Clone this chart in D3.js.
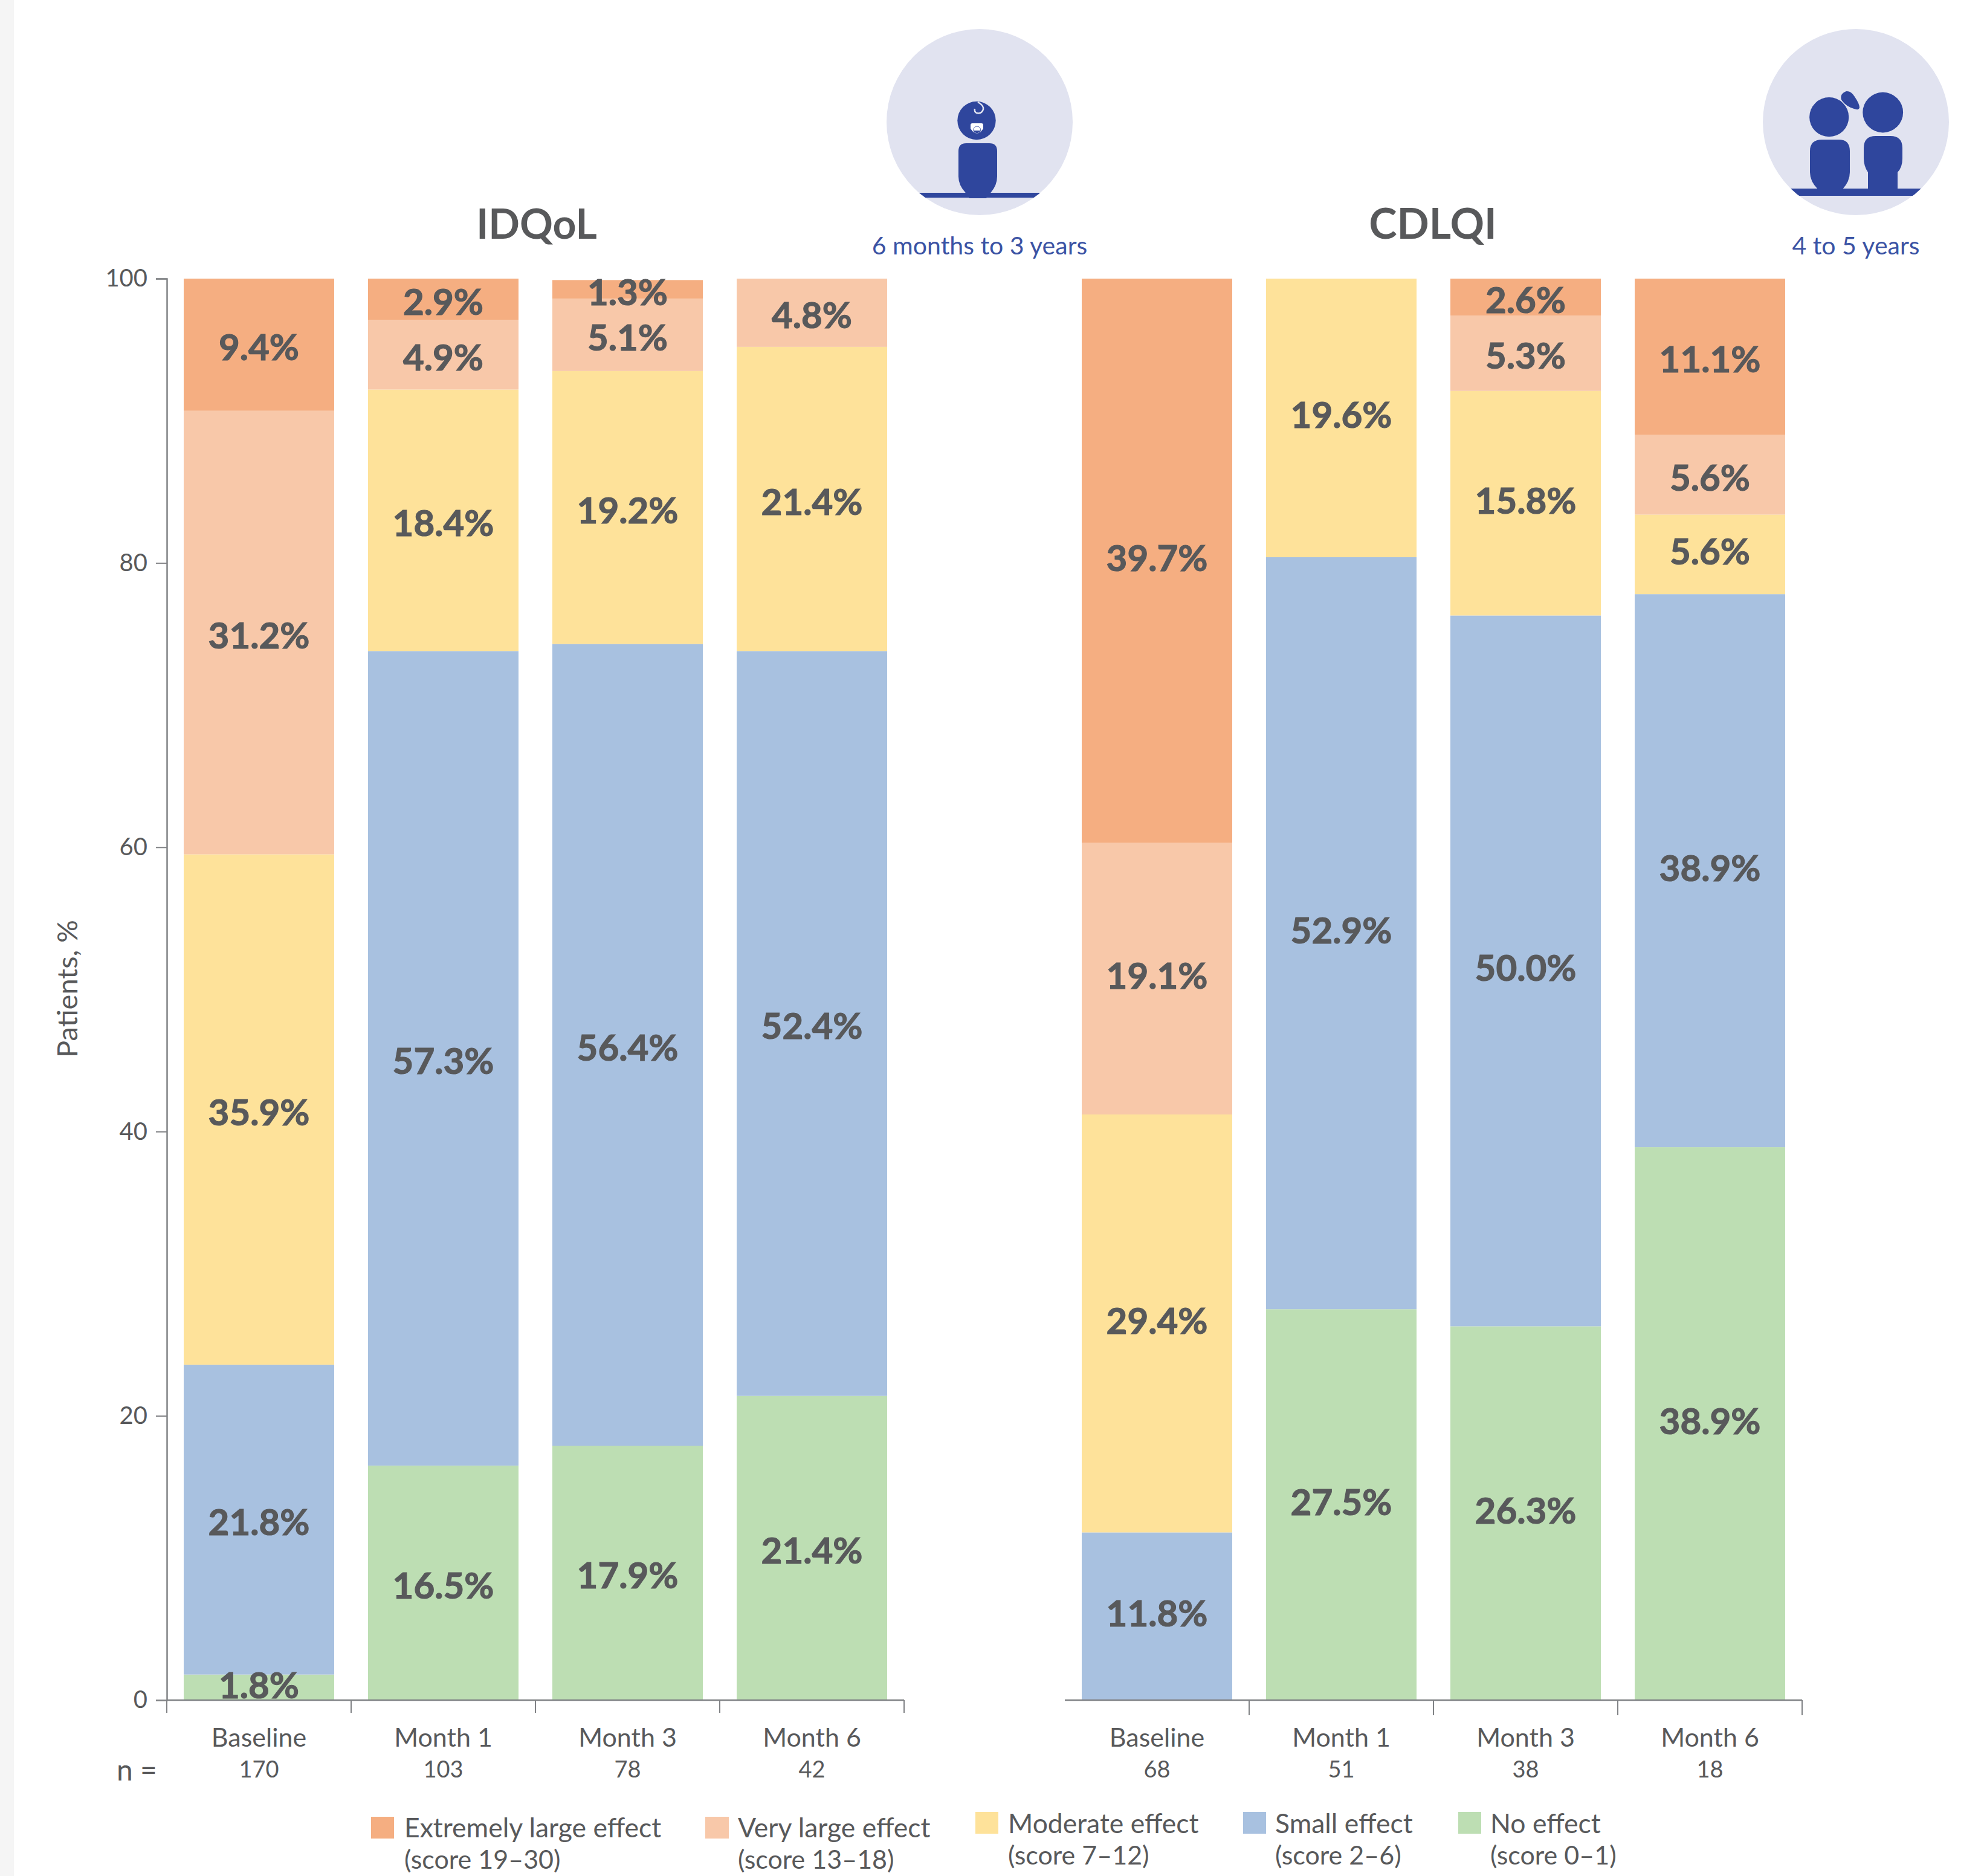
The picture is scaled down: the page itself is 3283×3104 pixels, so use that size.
<!DOCTYPE html>
<html>
<head>
<meta charset="utf-8">
<title>IDQoL and CDLQI</title>
<script src="https://cdn.jsdelivr.net/npm/d3@7"></script>
<style>
  html, body { margin: 0; padding: 0; background: #fff; }
  svg { display: block; }
  text { font-family: Lato, sans-serif; fill: #58595b; }
</style>
</head>
<body>
<div id="chart"></div>
<script>
const timepoints = ['Baseline', 'Month 1', 'Month 3', 'Month 6'];
const effects = ['none', 'small', 'moderate', 'veryLarge', 'extreme'];

const idqolN = [170, 103, 78, 42];
const idqolNone = [1.8, 16.5, 17.9, 21.4];
const idqolSmall = [21.8, 57.3, 56.4, 52.4];
const idqolModerate = [35.9, 18.4, 19.2, 21.4];
const idqolVeryLarge = [31.2, 4.9, 5.1, 4.8];
const idqolExtreme = [9.4, 2.9, 1.3, 0];

const cdlqiN = [68, 51, 38, 18];
const cdlqiNone = [0, 27.5, 26.3, 38.9];
const cdlqiSmall = [11.8, 52.9, 50.0, 38.9];
const cdlqiModerate = [29.4, 19.6, 15.8, 5.6];
const cdlqiVeryLarge = [19.1, 0, 5.3, 5.6];
const cdlqiExtreme = [39.7, 0, 2.6, 11.1];

const yTicks = [0, 20, 40, 60, 80, 100];

const legendNames = ['Extremely large effect', 'Very large effect', 'Moderate effect', 'Small effect', 'No effect'];
const legendScores = ['(score 19–30)', '(score 13–18)', '(score 7–12)', '(score 2–6)', '(score 0–1)'];
const legendKeys = ['extreme', 'veryLarge', 'moderate', 'small', 'none'];

const colors = {
  extreme: '#f5ae81',
  veryLarge: '#f8c8a9',
  moderate: '#fee29a',
  small: '#a8c1e0',
  none: '#bddeb3',
};

const width = 3283;
const height = 3104;
const textColor = '#58595b';
const axisColor = '#808285';
const iconBlue = '#2f469d';

function rows(none, small, moderate, veryLarge, extreme) {
  return timepoints.map((t, i) => ({
    timepoint: t,
    none: none[i],
    small: small[i],
    moderate: moderate[i],
    veryLarge: veryLarge[i],
    extreme: extreme[i],
  }));
}

const svg = d3.select('#chart').append('svg')
  .attr('width', width)
  .attr('height', height)
  .attr('viewBox', `0 0 ${width} ${height}`);

svg.append('rect').attr('width', 23).attr('height', height).attr('fill', '#f5f5f5');

const yScale = d3.scaleLinear().domain([0, 100]).range([2813, 461]).clamp(true);

function renderPanel(opts) {
  const { title, titleX, titleSize, left, data, n, tickLen, labelShift } = opts;
  const right = left + 1220;
  const xScale = d3.scaleBand()
    .domain(timepoints)
    .range([left, right])
    .paddingInner(0.1836)
    .paddingOuter(0.0918);

  const g = svg.append('g');
  const series = d3.stack().keys(effects)(data);

  g.selectAll('g.series')
    .data(series)
    .join('g')
    .attr('class', 'series')
    .attr('fill', (s) => colors[s.key])
    .selectAll('rect')
    .data((s) => s)
    .join('rect')
    .attr('x', (d) => xScale(d.data.timepoint))
    .attr('width', xScale.bandwidth())
    .attr('y', (d) => yScale(d[1]))
    .attr('height', (d) => yScale(d[0]) - yScale(d[1]));

  // baseline and the ticks between the time points
  g.append('line')
    .attr('x1', left).attr('x2', right)
    .attr('y1', yScale(0)).attr('y2', yScale(0))
    .attr('stroke', axisColor).attr('stroke-width', 2.5);

  const boundaries = opts.firstTick ? d3.range(0, 5) : d3.range(1, 5);
  g.selectAll('line.xtick')
    .data(boundaries)
    .join('line')
    .attr('class', 'xtick')
    .attr('x1', (i) => left + i * xScale.step())
    .attr('x2', (i) => left + i * xScale.step())
    .attr('y1', yScale(0))
    .attr('y2', yScale(0) + tickLen)
    .attr('stroke', axisColor)
    .attr('stroke-width', 2);

  const xAxis = g.append('g')
    .attr('transform', `translate(0,${yScale(0)})`)
    .call(d3.axisBottom(xScale).tickSize(0).tickPadding(0));
  xAxis.select('.domain').remove();
  xAxis.selectAll('text')
    .attr('y', 77)
    .attr('dy', 0)
    .style('font-size', '43px')
    .style('fill', textColor);

  g.selectAll('text.n')
    .data(n)
    .join('text')
    .attr('class', 'n')
    .attr('x', (d, i) => xScale(timepoints[i]) + xScale.bandwidth() / 2)
    .attr('y', 2941)
    .attr('text-anchor', 'middle')
    .style('font-size', '38px')
    .text((d) => d);

  // value labels, one per non-empty segment
  series.forEach((s) => {
    g.selectAll(`text.v-${s.key}`)
      .data(s.filter((d) => d.data[s.key] > 0))
      .join('text')
      .attr('class', `v-${s.key}`)
      .attr('x', (d) => xScale(d.data.timepoint) + xScale.bandwidth() / 2)
      .attr('y', (d) => (yScale(d[0]) + yScale(d[1])) / 2 + labelShift(s.key, d))
      .attr('text-anchor', 'middle')
      .attr('stroke', textColor)
      .attr('stroke-width', 1.2)
      .style('font-size', '60px')
      .style('font-weight', 700)
      .text((d) => d.data[s.key].toFixed(1) + '%');
  });

  svg.append('text')
    .attr('x', titleX)
    .attr('y', 395)
    .attr('text-anchor', 'middle')
    .style('font-size', titleSize + 'px')
    .style('font-weight', 700)
    .text(title);
}

renderPanel({
  title: 'IDQoL',
  titleX: 888,
  titleSize: 68,
  left: 276,
  data: rows(idqolNone, idqolSmall, idqolModerate, idqolVeryLarge, idqolExtreme),
  n: idqolN,
  tickLen: 21,
  firstTick: true,
  // the thin bottom segment has its label lifted a little
  labelShift: (key, d) => (key === 'none' && d.data.none < 5 ? 18 : 26),
});

renderPanel({
  title: 'CDLQI',
  titleX: 2371,
  titleSize: 70,
  left: 1762,
  data: rows(cdlqiNone, cdlqiSmall, cdlqiModerate, cdlqiVeryLarge, cdlqiExtreme),
  n: cdlqiN,
  tickLen: 25,
  firstTick: false,
  labelShift: (key, d) => ((key === 'veryLarge' || key === 'extreme') && d.data.timepoint !== 'Baseline' ? 26 : 17),
});

// y axis, left panel only
const yAxis = svg.append('g')
  .attr('transform', 'translate(276,0)')
  .call(d3.axisLeft(yScale).tickValues(yTicks).tickSize(18).tickPadding(14).tickFormat(d3.format('d')));
yAxis.select('.domain').attr('stroke', axisColor).attr('stroke-width', 2.5);
yAxis.selectAll('.tick line').attr('stroke', axisColor).attr('stroke-width', 2);
yAxis.selectAll('text').style('font-size', '40px').style('fill', textColor);

svg.append('text')
  .attr('transform', 'translate(128,1636) rotate(-90)')
  .attr('text-anchor', 'middle')
  .style('font-size', '47px')
  .text('Patients, %');

svg.append('text')
  .attr('x', 193)
  .attr('y', 2946)
  .style('font-size', '48px')
  .text('n =');

// legend
const legendLayout = [
  { swatch: 614, label: 669, top: 3006, first: 3040, second: 3092, w: 38 },
  { swatch: 1167, label: 1221, top: 3006, first: 3040, second: 3092, w: 39 },
  { swatch: 1614, label: 1668, top: 2998, first: 3033, second: 3085, w: 38 },
  { swatch: 2057, label: 2110, top: 2998, first: 3033, second: 3085, w: 38 },
  { swatch: 2413, label: 2466, top: 2998, first: 3033, second: 3085, w: 38 },
];

const legend = svg.append('g').selectAll('g')
  .data(legendKeys)
  .join('g');

legend.append('rect')
  .attr('x', (d, i) => legendLayout[i].swatch)
  .attr('y', (d, i) => legendLayout[i].top)
  .attr('width', (d, i) => legendLayout[i].w)
  .attr('height', 36)
  .attr('fill', (d) => colors[d]);

legend.append('text')
  .attr('x', (d, i) => legendLayout[i].label)
  .attr('y', (d, i) => legendLayout[i].first)
  .style('font-size', '44.5px')
  .text((d, i) => legendNames[i]);

legend.append('text')
  .attr('x', (d, i) => legendLayout[i].label)
  .attr('y', (d, i) => legendLayout[i].second)
  .style('font-size', '43px')
  .text((d, i) => legendScores[i]);

// age icons
function iconBase(id, ox, groundTop, groundH) {
  const icon = svg.append('g').attr('transform', `translate(${ox},0)`);
  svg.append('clipPath').attr('id', id)
    .append('circle').attr('cx', 221).attr('cy', 202).attr('r', 154);
  icon.append('circle').attr('cx', 221).attr('cy', 202).attr('r', 154).attr('fill', '#e1e3f0');
  icon.append('rect')
    .attr('x', 60).attr('y', groundTop).attr('width', 330).attr('height', groundH)
    .attr('fill', iconBlue)
    .attr('clip-path', `url(#${id})`);
  return icon;
}

const baby = iconBase('clip-baby', 1400, 319, 8);
baby.append('circle').attr('cx', 216).attr('cy', 199.5).attr('r', 31.7).attr('fill', iconBlue);
baby.append('path')
  .attr('d', 'M186,250 Q186,237 199,237 H237 Q250,237 250,250 V292 Q250,306 240,318 L232,328 H204 L197,318 Q186,306 186,292 Z')
  .attr('fill', iconBlue);
baby.append('path')
  .attr('d', 'M218,169 Q228,174 227,181 Q224,189 216,187 Q212,185 213,180')
  .attr('fill', 'none').attr('stroke', '#e1e3f0').attr('stroke-width', 2.5);
baby.append('path')
  .attr('d', 'M206,207 Q206,204 209,204 H224 Q227,204 227,207 V213 L222,219 H211 L206,213 Z')
  .attr('fill', '#fff');
baby.append('circle').attr('cx', 216.7).attr('cy', 215).attr('r', 6).attr('fill', '#fff').attr('stroke', iconBlue).attr('stroke-width', 0.8);
baby.append('path').attr('d', 'M211,216 H222.4 A6,6 0 0 1 211,216 Z').attr('fill', iconBlue);

const kids = iconBase('clip-kids', 2850, 312, 12);
kids.append('circle').attr('cx', 176.7).attr('cy', 193.7).attr('r', 32.6).attr('fill', iconBlue);
kids.append('circle').attr('cx', 265.7).attr('cy', 186).attr('r', 33.4).attr('fill', iconBlue);
kids.append('path')
  .attr('d', 'M197,165 Q194,155 205,151 Q213,150 219,160 Q227,172 227,178 Q226,183 218,180 Q204,176 197,165 Z')
  .attr('fill', iconBlue);
kids.append('path')
  .attr('d', 'M145,250 Q145,231 165,231 H193 Q211,231 211,250 V285 Q211,300 199,313 H158 Q145,300 145,285 Z')
  .attr('fill', iconBlue);
kids.append('path')
  .attr('d', 'M234,245 Q234,225 254,225 H278 Q298,225 298,245 V262 Q298,277 290,285 V313 H241 V285 Q234,275 234,262 Z')
  .attr('fill', iconBlue);

svg.append('text')
  .attr('x', 1621).attr('y', 421)
  .attr('text-anchor', 'middle')
  .style('font-size', '41px')
  .style('fill', '#3b53a4')
  .text('6 months to 3 years');

svg.append('text')
  .attr('x', 3071).attr('y', 421)
  .attr('text-anchor', 'middle')
  .style('font-size', '41px')
  .style('fill', '#3b53a4')
  .text('4 to 5 years');
</script>
</body>
</html>
